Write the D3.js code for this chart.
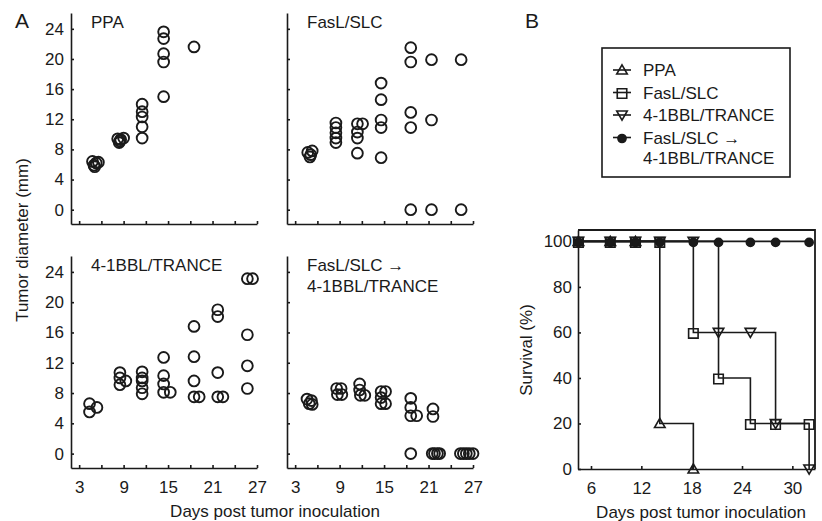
<!DOCTYPE html>
<html>
<head>
<meta charset="utf-8">
<script src="https://cdnjs.cloudflare.com/ajax/libs/d3/7.8.5/d3.min.js"></script>
<style>
  body { margin: 0; background: #fff; }
  svg text { font-family: "Liberation Sans", Arial, sans-serif; fill: #1a1a1a; }
  .axis path, .axis line { stroke: #1a1a1a; stroke-width: 1.6; }
  .axis text { font-size: 17px; }
</style>
</head>
<body>
<div id="chart"></div>
<script>
// panel A: tumor diameters, [day, mm]
var ppaPoints = [[4.8,6.4],[5.0,5.9],[5.3,6.2],[5.6,6.3],[5.1,5.7],
  [8.2,9.4],[8.4,8.9],[8.6,9.3],[9.0,9.5],[8.5,9.1],
  [11.5,14.0],[11.5,13.0],[11.5,12.3],[11.5,11.0],[11.5,9.5],
  [14.4,23.6],[14.4,22.7],[14.4,20.7],[14.4,19.6],[14.4,15.0],
  [18.5,21.6]];
var fasPoints = [[4.7,7.6],[5.0,7.0],[5.3,7.8],[5.1,7.3],
  [8.5,11.5],[8.5,10.9],[8.5,10.2],[8.5,9.5],[8.5,8.9],
  [11.4,11.4],[12.1,11.4],[11.4,10.3],[11.4,9.5],[11.4,7.5],
  [14.6,16.8],[14.6,14.6],[14.6,11.9],[14.6,10.9],[14.6,6.9],
  [18.6,21.5],[18.6,19.6],[18.6,12.9],[18.6,10.9],[18.6,0],
  [21.4,19.9],[21.4,11.9],[21.4,0],
  [25.4,19.9],[25.4,0]];
var bblPoints = [[4.4,6.6],[4.4,5.5],[5.4,6.1],
  [8.5,10.7],[8.5,10.0],[8.5,9.1],[9.3,9.6],
  [11.5,10.8],[11.5,10.0],[11.5,9.6],[11.5,8.7],[11.5,7.9],
  [14.4,12.7],[14.4,10.3],[14.4,9.2],[14.4,8.1],[15.3,8.1],
  [18.5,16.8],[18.5,12.8],[18.5,9.6],[18.5,7.5],[19.2,7.5],
  [21.7,19.0],[21.7,18.1],[21.7,10.7],[21.7,7.5],[22.4,7.5],
  [25.7,23.1],[26.4,23.1],[25.7,15.7],[25.7,11.6],[25.7,8.6]];
var seqPoints = [[4.6,7.2],[4.9,6.6],[5.2,7.0],[5.3,6.5],
  [8.6,8.6],[8.7,7.8],[9.2,8.6],[9.3,7.8],
  [11.7,9.2],[11.7,8.4],[11.8,7.7],[12.4,7.7],
  [14.6,8.2],[15.2,8.2],[14.6,7.4],[15.2,6.6],[14.6,6.6],
  [18.6,7.3],[18.6,6.1],[18.6,5.0],[19.4,5.0],[18.6,0],
  [21.6,5.9],[21.6,4.9],[21.5,0],[21.8,0],[22.2,0],[22.5,0],
  [25.3,0],[25.7,0],[26.1,0],[26.5,0],[27.0,0]];
var dayTicksA = [3, 6, 9, 12, 15, 18, 21, 24, 27];
var dayLabelsA = [3, 9, 15, 21, 27];
var mmTicks = [0, 4, 8, 12, 16, 20, 24];

// panel B: survival (%)
var survDays = [4.5, 8.3, 11.3, 14.2, 18.2, 21.2, 25, 28, 32];
var survPPA = [100, 100, 100, 20, 0];
var survFas = [100, 100, 100, 100, 60, 40, 20, 20, 20];
var survBbl = [100, 100, 100, 100, 100, 60, 60, 20, 0];
var survSeq = [100, 100, 100, 100, 100, 100, 100, 100, 100];
var survTicks = [0, 20, 40, 60, 80, 100];
var dayTicksB = [6, 12, 18, 24, 30];
var legendNames = ["PPA", "FasL/SLC", "4-1BBL/TRANCE", "FasL/SLC \u2192"];

var w = 822, h = 521;
var svg = d3.select("#chart").append("svg").attr("width", w).attr("height", h);

/////////////////////////////////////////////////////////////// panel A
var panels = [
  {title: ["PPA"], data: ppaPoints, x0: 71, x1: 257, y0: 224, y1: 13, left: true, bottom: false},
  {title: ["FasL/SLC"], data: fasPoints, x0: 287, x1: 473, y0: 224, y1: 13, left: false, bottom: false},
  {title: ["4-1BBL/TRANCE"], data: bblPoints, x0: 71, x1: 257, y0: 468, y1: 256, left: true, bottom: true},
  {title: ["FasL/SLC \u2192", "4-1BBL/TRANCE"], data: seqPoints, x0: 287, x1: 473, y0: 468, y1: 256, left: false, bottom: true}
];

panels.forEach(function(p) {
  var xScale = d3.scaleLinear().domain([1.9, 27]).range([p.x0, p.x1]);
  var yScale = d3.scaleLinear().domain([-1.9, 26.1]).range([p.y0, p.y1]);

  svg.append("g").attr("class", "axis")
      .attr("transform", "translate(0," + p.y0 + ")")
      .call(d3.axisBottom(xScale).tickValues(dayTicksA).tickSizeInner(-3).tickSizeOuter(0).tickPadding(13)
        .tickFormat(function(d) { return (p.bottom && dayLabelsA.indexOf(d) >= 0) ? d : ""; }));
  svg.append("g").attr("class", "axis")
      .attr("transform", "translate(" + p.x0 + ",0)")
      .call(d3.axisLeft(yScale).tickValues(mmTicks).tickSizeInner(-3).tickSizeOuter(0).tickPadding(7)
        .tickFormat(function(d) { return p.left ? d : ""; }));

  p.title.forEach(function(t, i) {
    svg.append("text").attr("x", p.x0 + 20).attr("y", p.y1 + 15 + i * 21)
        .style("font-size", "17px").text(t);
  });

  svg.append("g").selectAll("circle")
      .data(p.data)
      .enter()
      .append("circle")
      .attr("cx", function(d) { return xScale(d[0]); })
      .attr("cy", function(d) { return yScale(d[1]); })
      .attr("r", 5.4)
      .attr("fill", "none")
      .attr("stroke", "#1a1a1a")
      .attr("stroke-width", 1.9);
});

svg.append("text").attr("x", 15).attr("y", 28).style("font-size", "21px").text("A");
svg.append("text").attr("transform", "translate(28,240) rotate(-90)")
    .attr("text-anchor", "middle").style("font-size", "17px").text("Tumor diameter (mm)");
svg.append("text").attr("x", 275).attr("y", 517)
    .attr("text-anchor", "middle").style("font-size", "17px").text("Days post tumor inoculation");

/////////////////////////////////////////////////////////////// panel B
var bx = d3.scaleLinear().domain([4.45, 32.7]).range([578, 815]);
var by = d3.scaleLinear().domain([0, 105]).range([469, 230]);

svg.append("text").attr("x", 525).attr("y", 28).style("font-size", "21px").text("B");

svg.append("g").attr("class", "axis")
    .attr("transform", "translate(0,469)")
    .call(d3.axisBottom(bx).tickValues(dayTicksB).tickSizeInner(-3).tickSizeOuter(0).tickPadding(13));
svg.append("g").attr("class", "axis")
    .attr("transform", "translate(578,0)")
    .call(d3.axisLeft(by).tickValues(survTicks).tickSizeInner(-3).tickSizeOuter(0).tickPadding(6));
svg.append("path")
    .attr("d", "M" + bx.range()[0] + "," + by.range()[1] + "H" + bx.range()[1] + "V" + by.range()[0])
    .attr("fill", "none").attr("stroke", "#1a1a1a").attr("stroke-width", 1.8);

svg.append("text").attr("transform", "translate(532,350) rotate(-90)")
    .attr("text-anchor", "middle").style("font-size", "17px").text("Survival (%)");
svg.append("text").attr("x", 701).attr("y", 518)
    .attr("text-anchor", "middle").style("font-size", "17px").text("Days post tumor inoculation");

var triUp = d3.symbol().type(d3.symbolTriangle).size(48);
var square = d3.symbol().type(d3.symbolSquare).size(90);
var dot = d3.symbol().type(d3.symbolCircle).size(52);

var series = [
  {vals: survPPA, sym: triUp, rot: 0, fill: "none"},
  {vals: survFas, sym: square, rot: 0, fill: "none"},
  {vals: survBbl, sym: triUp, rot: 180, fill: "none"},
  {vals: survSeq, sym: dot, rot: 0, fill: "#1a1a1a"}
];

var stepLine = d3.line()
    .x(function(d) { return bx(d[0]); })
    .y(function(d) { return by(d[1]); })
    .curve(d3.curveStepAfter);

series.forEach(function(s) {
  s.pts = s.vals.map(function(v, i) { return [survDays[i], v]; });
  svg.append("path").attr("d", stepLine(s.pts))
      .attr("fill", "none").attr("stroke", "#1a1a1a").attr("stroke-width", 1.6);
});

series.forEach(function(s) {
  svg.append("g").selectAll("path")
      .data(s.pts)
      .enter()
      .append("path")
      .attr("d", s.sym)
      .attr("transform", function(d) {
        var ty = s.rot ? by(d[1]) - 1 : by(d[1]) + 1;
        return "translate(" + bx(d[0]) + "," + ty + ") rotate(" + s.rot + ")";
      })
      .attr("fill", s.fill)
      .attr("stroke", "#1a1a1a")
      .attr("stroke-width", 1.6);
});

// legend
var lg = svg.append("g");
lg.append("rect").attr("x", 602).attr("y", 48).attr("width", 188).attr("height", 129)
    .attr("fill", "none").attr("stroke", "#1a1a1a").attr("stroke-width", 1.6);
series.forEach(function(s, i) {
  var ly = 70 + i * 22.5;
  lg.append("line").attr("x1", 613).attr("x2", 631).attr("y1", ly).attr("y2", ly)
      .attr("stroke", "#1a1a1a").attr("stroke-width", 1.6);
  lg.append("path").attr("d", s.sym)
      .attr("transform", "translate(622," + (s.rot ? ly - 1 : ly + 1) + ") rotate(" + s.rot + ")")
      .attr("fill", s.fill).attr("stroke", "#1a1a1a").attr("stroke-width", 1.6);
  lg.append("text").attr("x", 643).attr("y", ly + 6).style("font-size", "17px").text(legendNames[i]);
});
lg.append("text").attr("x", 643).attr("y", 70 + 4 * 22 + 6).style("font-size", "17px").text("4-1BBL/TRANCE");
</script>
</body>
</html>
